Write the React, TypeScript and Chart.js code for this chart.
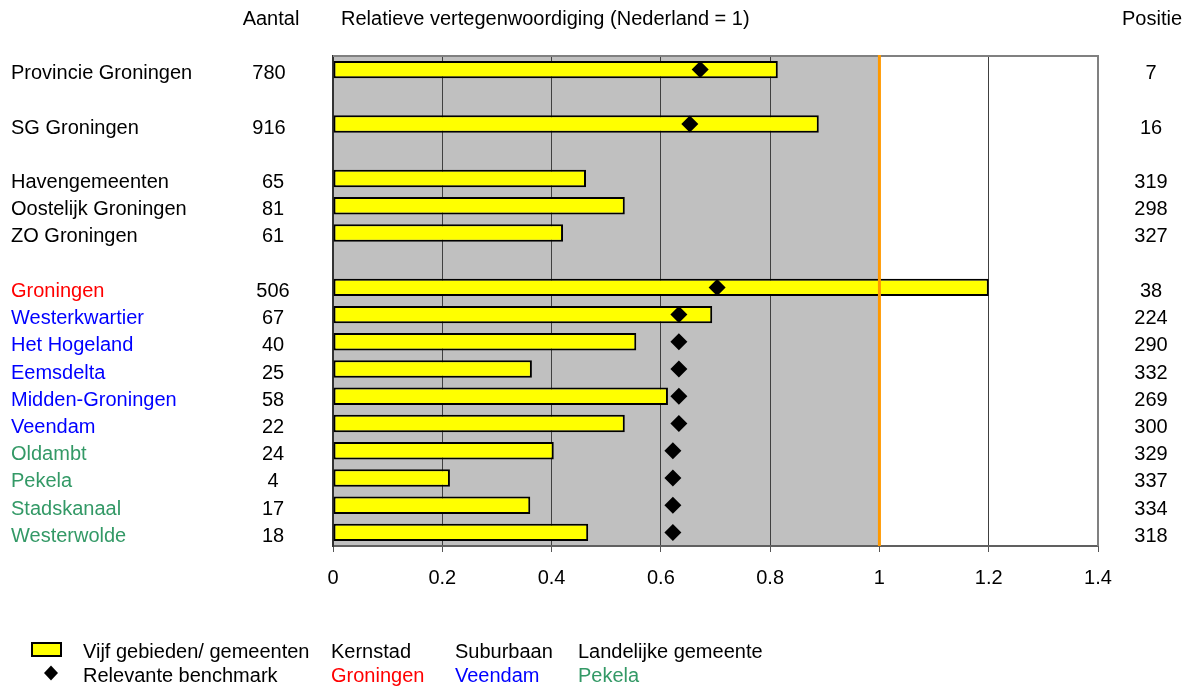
import React, { useEffect, useRef } from 'react';
import { Chart, registerables } from 'chart.js';

Chart.register(...registerables);

// ---------- data ----------
const categories: string[] = [
  'Provincie Groningen', '', 'SG Groningen', '',
  'Havengemeenten', 'Oostelijk Groningen', 'ZO Groningen', '',
  'Groningen', 'Westerkwartier', 'Het Hogeland', 'Eemsdelta', 'Midden-Groningen',
  'Veendam', 'Oldambt', 'Pekela', 'Stadskanaal', 'Westerwolde',
];
const categoryGroups: string[] = [
  'gebied', '', 'gebied', '',
  'gebied', 'gebied', 'gebied', '',
  'kern', 'sub', 'sub', 'sub', 'sub',
  'sub', 'land', 'land', 'land', 'land',
];
const counts: (number | null)[] = [
  780, null, 916, null,
  65, 81, 61, null,
  506, 67, 40, 25, 58, 22, 24, 4, 17, 18,
];
const relative: (number | null)[] = [
  0.814, null, 0.889, null,
  0.463, 0.534, 0.421, null,
  1.2, 0.694, 0.555, 0.364, 0.613, 0.534, 0.404, 0.214, 0.361, 0.467,
];
const benchmark: (number | null)[] = [
  0.672, null, 0.653, null,
  null, null, null, null,
  0.703, 0.633, 0.633, 0.633, 0.633, 0.633, 0.622, 0.622, 0.622, 0.622,
];
const positions: (number | null)[] = [
  7, null, 16, null,
  319, 298, 327, null,
  38, 224, 290, 332, 269, 300, 329, 337, 334, 318,
];
const xTickLabels: string[] = ['0', '0.2', '0.4', '0.6', '0.8', '1', '1.2', '1.4'];
const referenceValue = 1;
const headerCount = 'Aantal';
const headerTitle = 'Relatieve vertegenwoordiging (Nederland = 1)';
const headerPosition = 'Positie';
const legendSeries: string[] = ['Vijf gebieden/ gemeenten', 'Relevante benchmark'];
const legendTypes: string[] = ['Kernstad', 'Suburbaan', 'Landelijke gemeente'];
const legendExamples: string[] = ['Groningen', 'Veendam', 'Pekela'];
const legendExampleGroups: string[] = ['kern', 'sub', 'land'];

// ---------- styling ----------
const FAMILY = '"Liberation Sans", Arial, Helvetica, sans-serif';
const FONT = `20px ${FAMILY}`;
const groupColor: Record<string, string> = {
  gebied: '#000000',
  kern: '#FF0000',
  sub: '#0000FF',
  land: '#339966',
  '': '#000000',
};
const YELLOW = '#FFFF00';
const GRAY_BG = '#C0C0C0';
const ORANGE = '#FF9900';

const overlayPlugin = {
  id: 'overlay',
  beforeDraw(chart: any) {
    const { ctx, chartArea: a, scales } = chart;
    const x1 = scales.x.getPixelForValue(referenceValue);
    ctx.save();
    ctx.fillStyle = GRAY_BG;
    ctx.fillRect(a.left, a.top, x1 - a.left, a.bottom - a.top);
    ctx.restore();
  },
  afterDatasetsDraw(chart: any) {
    const { ctx, chartArea: a, scales } = chart;
    const x1 = scales.x.getPixelForValue(referenceValue);
    ctx.save();
    // top and right frame
    ctx.strokeStyle = '#808080';
    ctx.lineWidth = 2;
    ctx.beginPath();
    ctx.moveTo(a.left, a.top);
    ctx.lineTo(a.right, a.top);
    ctx.lineTo(a.right, a.bottom);
    ctx.stroke();
    // reference line
    ctx.strokeStyle = ORANGE;
    ctx.lineWidth = 3;
    ctx.beginPath();
    ctx.moveTo(x1, a.top - 1);
    ctx.lineTo(x1, a.bottom);
    ctx.stroke();
    ctx.restore();
  },
  afterDraw(chart: any) {
    const { ctx, scales } = chart;
    const y = scales.y;
    ctx.save();
    ctx.font = FONT;
    ctx.textBaseline = 'alphabetic';
    // headers
    ctx.fillStyle = '#000';
    ctx.textAlign = 'center';
    ctx.fillText(headerCount, 271, 25);
    ctx.fillText(headerPosition, 1152, 25);
    ctx.textAlign = 'left';
    ctx.fillText(headerTitle, 341, 25);
    // rows
    categories.forEach((name, i) => {
      const py = y.getPixelForValue(i) + 9.5;
      if (name) {
        ctx.textAlign = 'left';
        ctx.fillStyle = groupColor[categoryGroups[i]];
        ctx.fillText(name, 11, py);
      }
      ctx.fillStyle = '#000';
      ctx.textAlign = 'center';
      if (counts[i] !== null) ctx.fillText(String(counts[i]), i < 4 ? 269 : 273, py);
      if (positions[i] !== null) ctx.fillText(String(positions[i]), 1151, py);
    });
    // legend
    const r1 = 658, r2 = 681.5;
    ctx.fillStyle = YELLOW;
    ctx.fillRect(32, 643, 29, 13);
    ctx.strokeStyle = '#000';
    ctx.lineWidth = 2;
    ctx.strokeRect(32, 643, 29, 13);
    ctx.fillStyle = '#000';
    ctx.beginPath();
    const dx = 51, dy = 673, dr = 7;
    ctx.moveTo(dx - dr, dy);
    ctx.lineTo(dx, dy - dr - 0.5);
    ctx.lineTo(dx + dr, dy);
    ctx.lineTo(dx, dy + dr + 0.5);
    ctx.closePath();
    ctx.fill();
    ctx.textAlign = 'left';
    ctx.fillText(legendSeries[0], 83, r1);
    ctx.fillText(legendSeries[1], 83, r2);
    const colX = [331, 455, 578];
    legendTypes.forEach((t, i) => {
      ctx.fillStyle = '#000';
      ctx.fillText(t, colX[i], r1);
      ctx.fillStyle = groupColor[legendExampleGroups[i]];
      ctx.fillText(legendExamples[i], colX[i], r2);
    });
    ctx.restore();
  },
};

export default function App() {
  const canvasRef = useRef<HTMLCanvasElement | null>(null);

  useEffect(() => {
    if (!canvasRef.current) return;
    const near = (a: number, b: number) => Math.abs(a - b) < 1e-6;
    const chart = new Chart(canvasRef.current, {
      type: 'bar',
      data: {
        labels: categories,
        datasets: [
          {
            type: 'line',
            label: 'Relevante benchmark',
            data: benchmark as any,
            indexAxis: 'y',
            showLine: false,
            pointStyle: 'rectRot',
            pointRadius: 8.5,
            pointHoverRadius: 8.5,
            pointBackgroundColor: '#000',
            pointBorderColor: '#000',
            pointBorderWidth: 0,
            order: 0,
          } as any,
          {
            type: 'bar',
            label: 'Vijf gebieden/ gemeenten',
            data: relative as any,
            indexAxis: 'y',
            backgroundColor: YELLOW,
            borderColor: '#000',
            borderWidth: 2,
            borderSkipped: false,
            barPercentage: 0.64,
            categoryPercentage: 1,
            order: 1,
          } as any,
        ],
      },
      options: {
        indexAxis: 'y',
        animation: false,
        responsive: false,
        maintainAspectRatio: false,
        events: [],
        layout: { padding: { left: 333, right: 93, top: 56, bottom: 93 } },
        plugins: {
          legend: { display: false },
          tooltip: { enabled: false },
        },
        scales: {
          x: {
            type: 'linear',
            min: 0,
            max: 1.4,
            ticks: {
              stepSize: 0.2,
              color: '#000',
              font: { family: FAMILY, size: 20 },
              padding: 14,
              callback: (_v: any, i: number) => xTickLabels[i],
            },
            grid: {
              display: true,
              drawOnChartArea: true,
              drawTicks: true,
              tickLength: 6,
              lineWidth: 1,
              color: (c: any) => {
                const v = c.tick ? c.tick.value : 0;
                if (near(v, 1.4)) return '#808080';
                if (near(v, 0)) return '#333333';
                return '#404040';
              },
              tickColor: '#555555',
            },
            border: { display: true, color: '#606060', width: 2 },
            afterFit: (s: any) => { s.height = 50; },
          } as any,
          y: {
            type: 'category',
            offset: true,
            ticks: { display: false },
            grid: { display: false, drawTicks: false },
            border: { display: true, color: '#333333', width: 2 },
            afterFit: (s: any) => { s.width = 0; },
          } as any,
        },
      },
      plugins: [overlayPlugin as any],
    });
    return () => chart.destroy();
  }, []);

  return (
    <div style={{ position: 'absolute', left: 0, top: 0, width: 1191, height: 689, background: '#fff' }}>
      <canvas ref={canvasRef} width={1191} height={689} style={{ display: 'block', width: 1191, height: 689 }} />
    </div>
  );
}
